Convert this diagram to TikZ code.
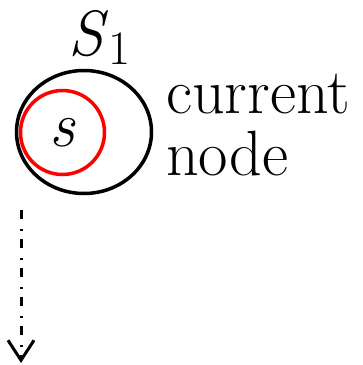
\documentclass[tikz,border=0pt]{standalone}
\usetikzlibrary{positioning,arrows.meta,shapes.geometric}

\begin{document}
\begin{tikzpicture}[x=1pt,y=-1pt,>={Straight Barb[length=20pt,width=26pt]},font=\fontsize{64}{60}\selectfont]
\useasboundingbox (0,0) rectangle (363,365);
\node[draw,line width=3.5pt,ellipse,minimum width=135pt,minimum height=123pt,inner sep=0] (big) at (84,132) {};
\node[draw=red,line width=3.5pt,circle,minimum size=84pt,inner sep=0] (small) at (62.5,132.5) {\itshape s};
\node[anchor=base west,inner sep=0] (lab) at (68,55) {\itshape S\/\raisebox{-9pt}{\fontsize{48}{48}\selectfont\upshape 1}};
\node[anchor=base west,inner sep=0,text depth=0pt] (cur) at (166,113) {current};
\node[anchor=base west,inner sep=0,text height=42pt] (nd) at (166,175) {node};
\coordinate (top) at (21,210);
\coordinate (bot) at (21,363);
\draw[->,line width=3pt,dash pattern=on 9pt off 10pt on 2pt off 8pt] (top) -- (bot);
\end{tikzpicture}
\end{document}
